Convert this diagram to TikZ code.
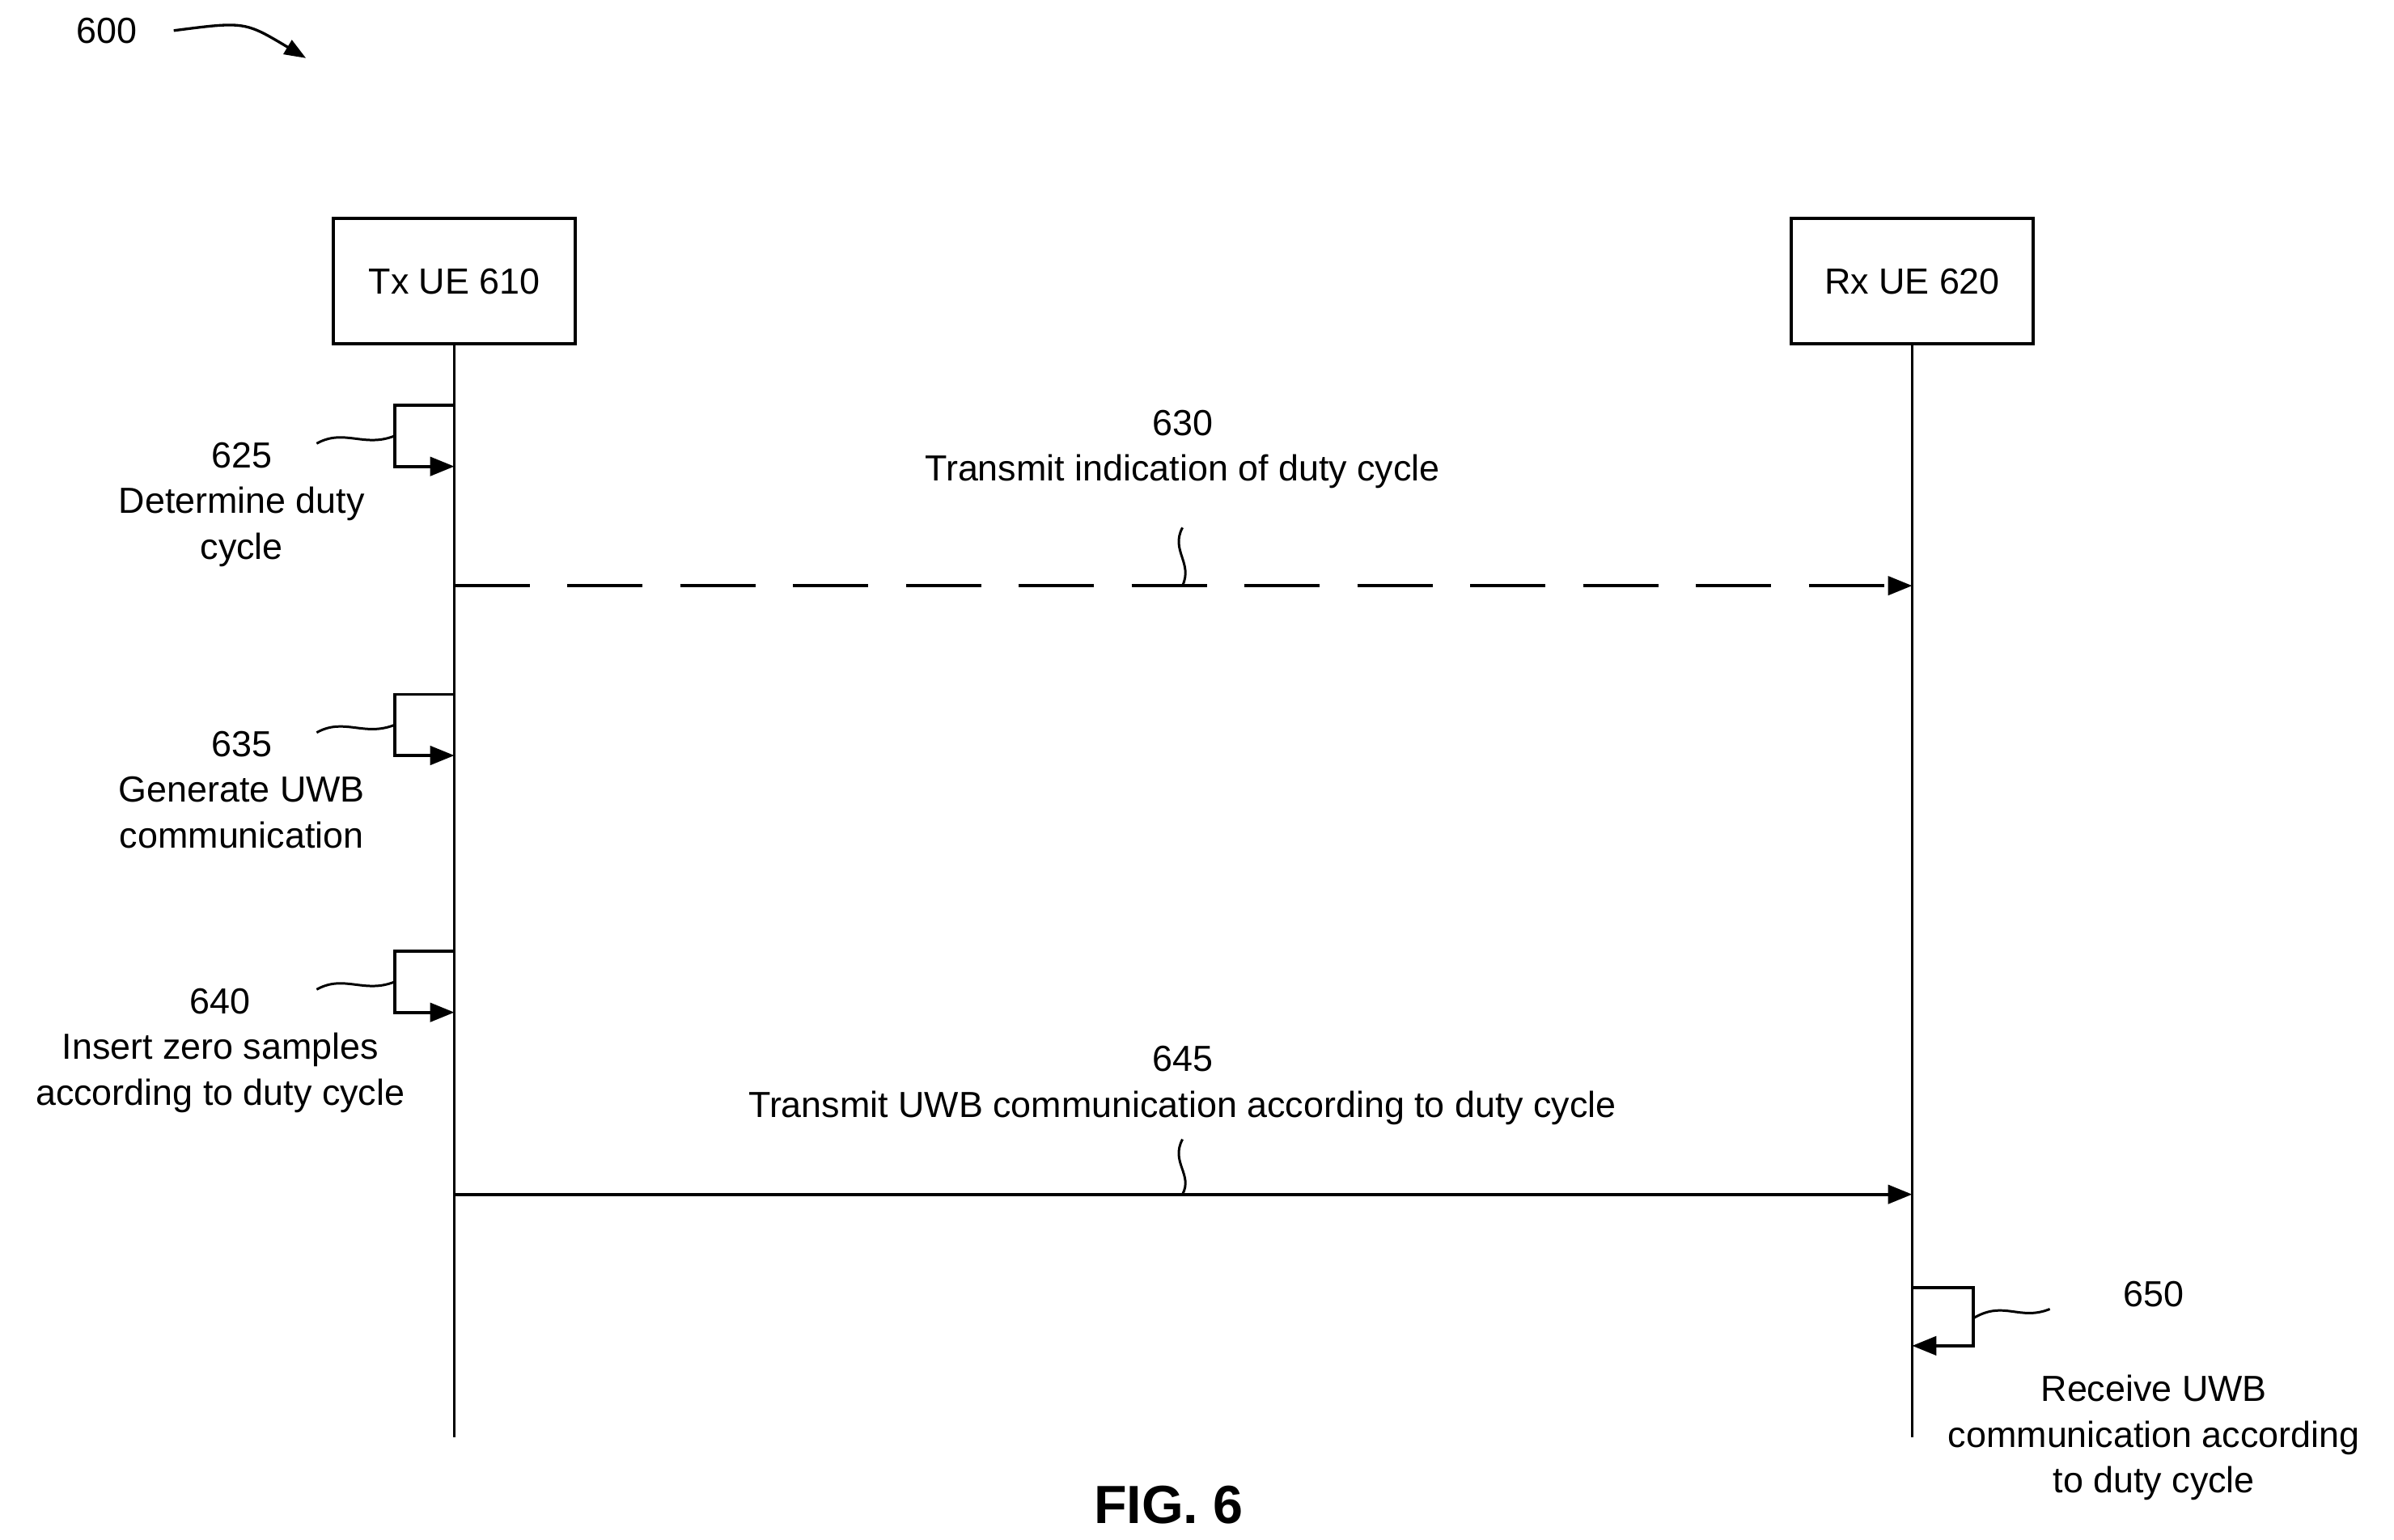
\documentclass[tikz,border=0pt]{standalone}
\usepackage{fontspec}
\setmainfont{Liberation Sans}
\usetikzlibrary{arrows.meta}
\begin{document}
\begin{tikzpicture}[x=0.02cm,y=-0.02cm,
        every node/.style={font=\fontsize{13.5}{17}\selectfont},
        ue/.style={draw,line width=1.2pt,minimum width=3.16cm,minimum height=1.64cm},
        lbl/.style={align=center,anchor=north},
        msg/.style={line width=1.1pt,-{Triangle[length=9pt,width=7pt]}},
        tick/.style={line width=0.9pt}]
        \useasboundingbox (0,0) rectangle (1565,1007);

        \node (ref) at (70,20) {600};
        \coordinate (refend) at (200,38);
        \draw[line width=1pt,-{Triangle[length=8pt,width=6pt]}] (ref.east) ++(10pt,0) .. controls (160,14) .. (refend);

        \node (Tx) at (297,184) [ue] {Tx UE 610};
        \node (Rx) at (1250,184) [ue] {Rx UE 620};
        \coordinate (Txend) at (297,940);
        \coordinate (Rxend) at (1250,940);
        \draw[line width=1.1pt] (Tx.south) -- (Txend);
        \draw[line width=1.1pt] (Rx.south) -- (Rxend);

        % self steps on Tx
        \foreach \name/\y/\lx/\txt in {625/265/158/{625\\Determine duty\\cycle},
                                       635/454/158/{635\\Generate UWB\\communication},
                                       640/622/144/{640\\Insert zero samples\\according to duty cycle}} {
            \coordinate (s\name a) at (297,\y);
            \coordinate (s\name b) at (297,\y+40);
            \draw[msg] (s\name a) -- ++(-39,0) |- (s\name b);
            \draw[tick] (207,\y+25) .. controls (225,\y+15) and (238,\y+28) .. (258,\y+20);
            \node (l\name) at (\lx,\y+18) [lbl] {\txt};
        }

        % messages
        \coordinate (m630a) at (297,383);
        \coordinate (m630b) at (1250,383);
        \draw[msg,dash pattern=on 28pt off 14pt] (m630a) -- (m630b);
        \draw[tick] (773,345) .. controls (765,360) and (780,368) .. (773,383);
        \node (l630) at (773,262) [lbl] {630\\Transmit indication of duty cycle};

        \coordinate (m645a) at (297,781);
        \coordinate (m645b) at (1250,781);
        \draw[msg] (m645a) -- (m645b);
        \draw[tick] (773,745) .. controls (765,760) and (780,768) .. (773,781);
        \node (l645) at (773,678) [lbl] {645\\Transmit UWB communication according to duty cycle};

        % self step on Rx
        \coordinate (s650a) at (1250,842);
        \coordinate (s650b) at (1250,880);
        \draw[msg] (s650a) -- ++(40,0) |- (s650b);
        \draw[tick] (1290,862) .. controls (1310,850) and (1320,864) .. (1340,856);
        \node (n650) at (1408,846) {650};
        \node (l650) at (1408,893) [lbl] {Receive UWB\\communication according\\to duty cycle};

        \node (fig) at (764,984) {\fontsize{20}{24}\selectfont\bfseries FIG. 6};
\end{tikzpicture}
\end{document}
